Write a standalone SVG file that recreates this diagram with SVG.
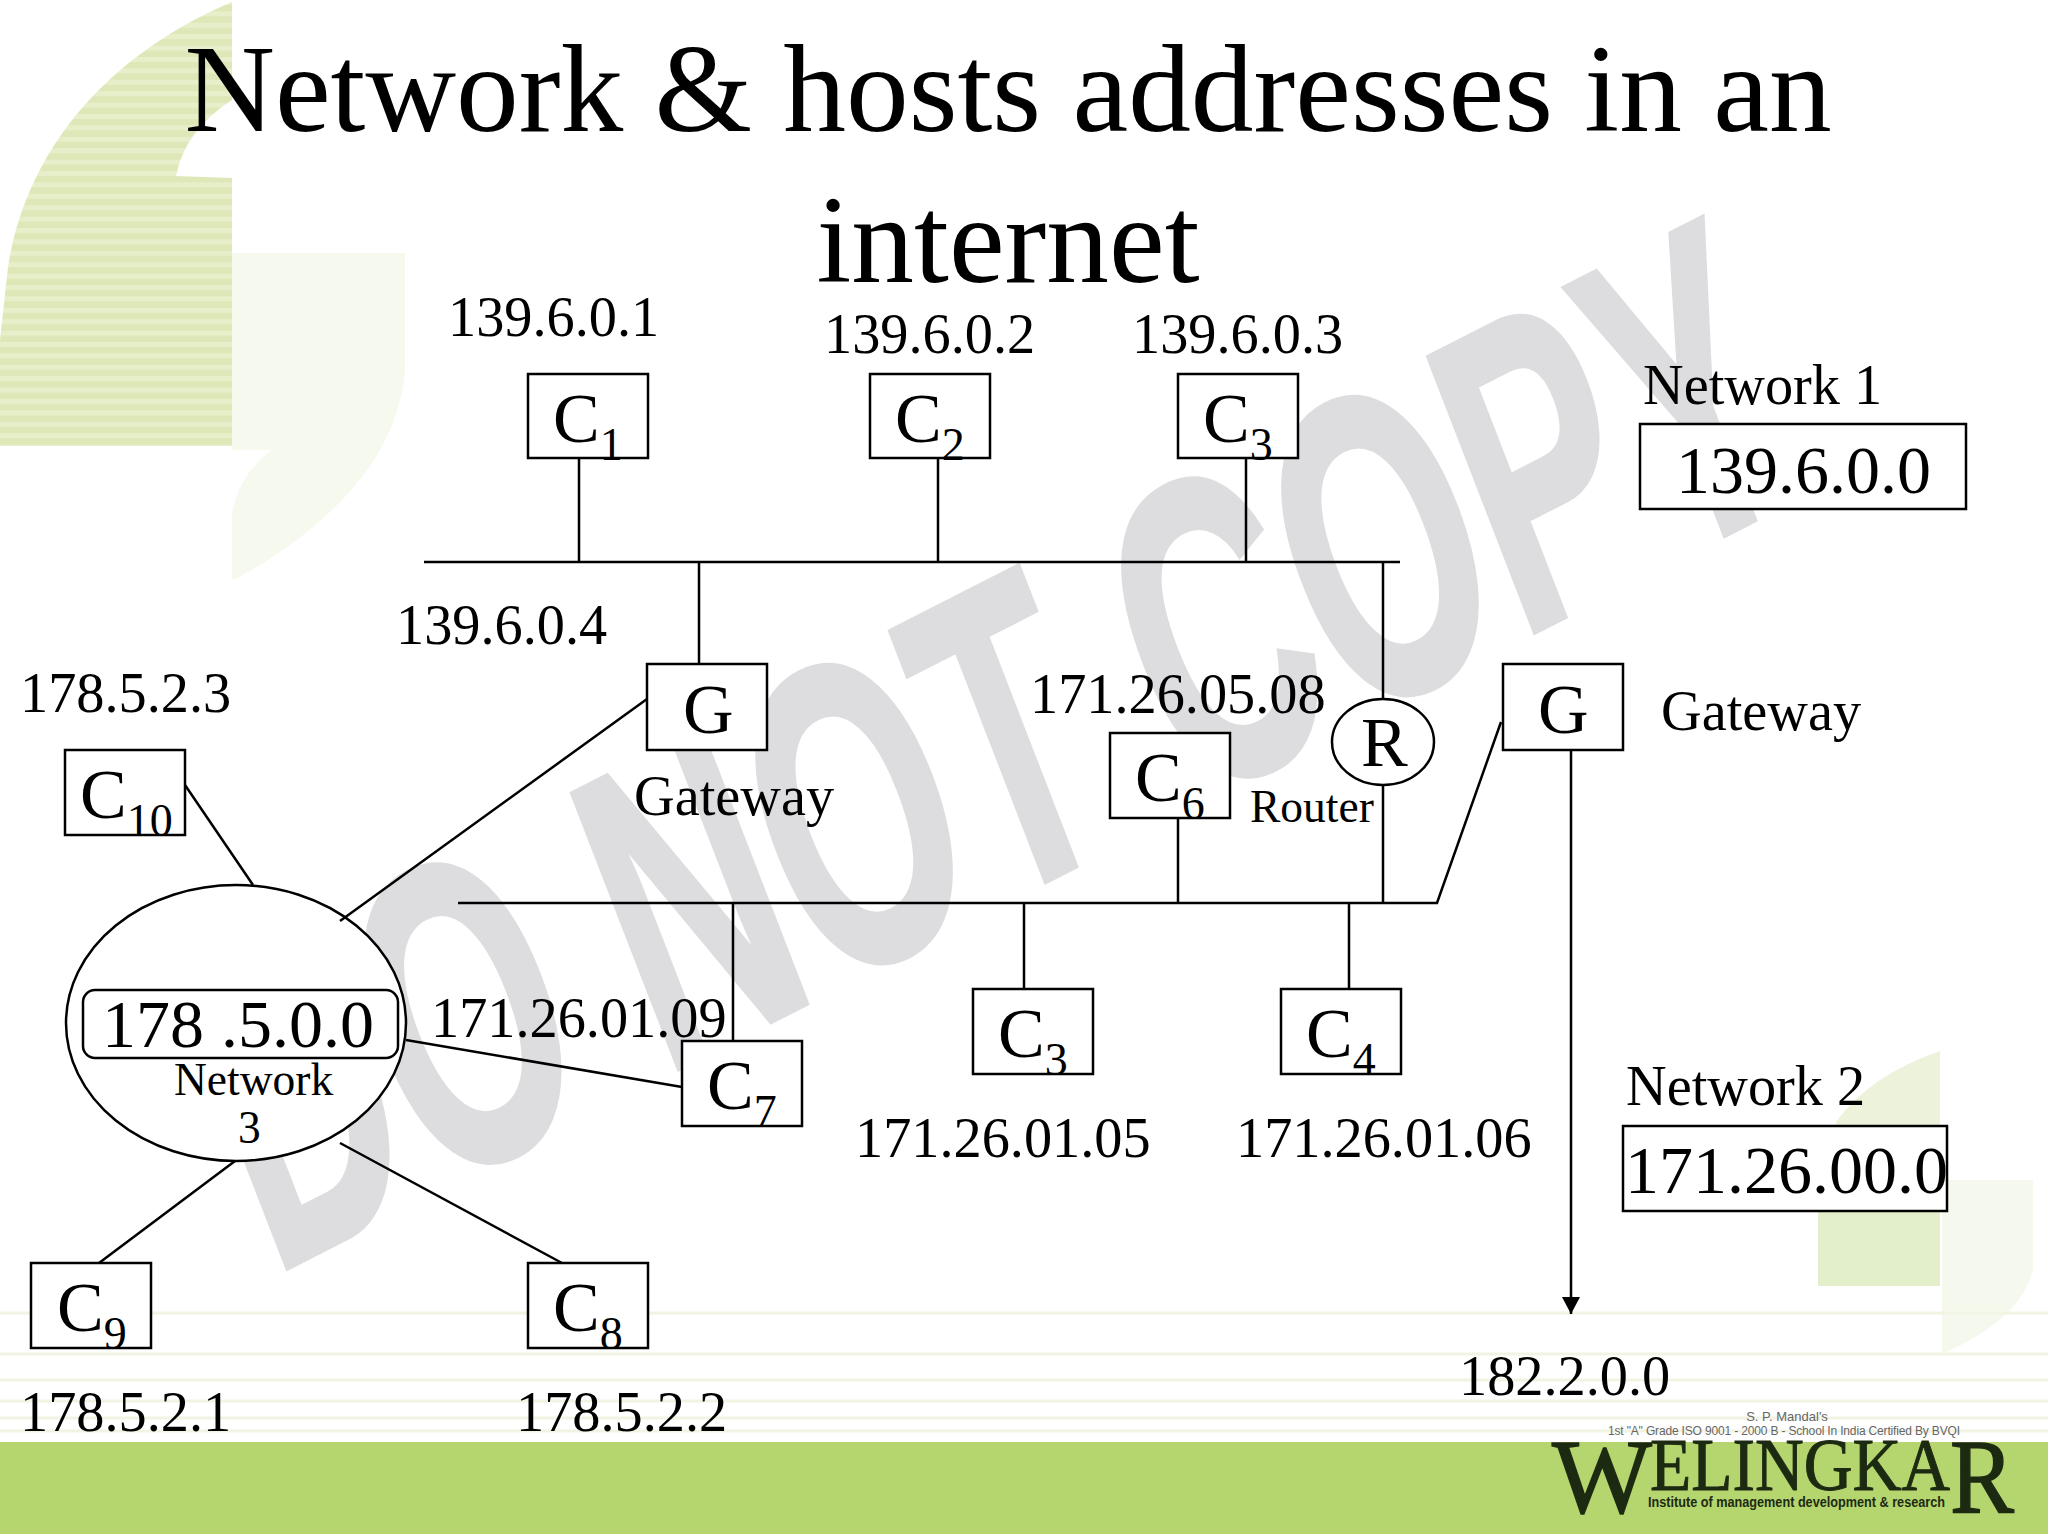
<svg xmlns="http://www.w3.org/2000/svg" width="2048" height="1534" viewBox="0 0 2048 1534">
<style>
text{font-family:"Liberation Serif","Times New Roman",serif;fill:#000}
.a{font-size:56.3px}.b{font-size:68px}.c{font-size:70px}.s{font-size:46px}.m{font-size:45.5px}.t{font-size:125.4px}
.box{fill:#fff;stroke:#000;stroke-width:2.5}
.ln{stroke:#000;stroke-width:2.5;fill:none}
.bl{stroke:#f1f3e3;stroke-width:3;fill:none}
</style>
<defs>
<pattern id="st" width="12" height="11.4" patternUnits="userSpaceOnUse"><rect width="12" height="11.4" fill="#e7efca"/><rect y="5" width="12" height="6.4" fill="#dde7b8"/></pattern>
<marker id="ah" markerUnits="userSpaceOnUse" markerWidth="18" markerHeight="18" refX="17" refY="9" orient="auto"><path d="M0 0L17 9L0 18Z" fill="#000"/></marker>
</defs>
<g id="background">
<rect width="2048" height="1534" fill="#fff"/>
<path d="M232 253L405 253L405 370Q395 490 236 579L232 579L232 515Q238 475 272 450L232 450Z" fill="#f6f9ee"/>
<path d="M232 2C130 45 30 130 8 267L0 340L0 446L232 446L232 178L176 176Q185 130 232 100Z" fill="url(#st)"/>
<path d="M1942 1180L2033 1180L2033 1270Q2020 1320 1942 1354L1942 1286Z" fill="#f5f8ec"/>
<path d="M1836 1122Q1870 1075 1940 1051L1940 1180L1842 1180Z" fill="#edf3db"/>
<path d="M1818 1180L1940 1180L1940 1286L1818 1286Z" fill="#e3eecb"/>
<path class="bl" d="M0 1313H2048M0 1354H2048M0 1380H2048M0 1401H2048M0 1418H2048M0 1431H2048"/>
<rect y="1442" width="2048" height="92" fill="#b5d56f"/>
<text transform="matrix(.512 -.261 .36 .93 272 1276)" style="font-family:'Liberation Sans',Arial,sans-serif;font-weight:700;font-size:430px;fill:#dddde0;stroke:#dddde0;stroke-width:5">DO NOT COPY</text>
</g>
<g id="logo">
<text x="1787" y="1421" text-anchor="middle" style="font-family:'Liberation Sans',sans-serif;font-size:13px;fill:#666">S. P. Mandal's</text>
<text x="1608" y="1435" textLength="352" style="font-family:'Liberation Sans',sans-serif;font-size:12px;fill:#666">1st "A" Grade ISO 9001 - 2000 B - School In India Certified By BVQI</text>
<text x="1552" y="1512" textLength="100" lengthAdjust="spacingAndGlyphs" style="font-size:106px;fill:#1d2a12;stroke:#1d2a12;stroke-width:1.5">W</text>
<text x="1650" y="1490" textLength="300" lengthAdjust="spacingAndGlyphs" style="font-size:75px;fill:#1d2a12;stroke:#1d2a12;stroke-width:1">ELINGKA</text>
<text x="1950" y="1512" textLength="64" lengthAdjust="spacingAndGlyphs" style="font-size:106px;fill:#1d2a12;stroke:#1d2a12;stroke-width:1.5">R</text>
<text x="1648" y="1507" textLength="297" lengthAdjust="spacingAndGlyphs" style="font-family:'Liberation Sans',sans-serif;font-weight:700;font-size:14px;fill:#1d2a12">Institute of management development &amp; research</text>
</g>
<g id="title">
<text class="t" x="1008" y="131" text-anchor="middle">Network &amp; hosts addresses in an</text>
<text class="t" x="1008" y="282" text-anchor="middle">internet</text>
</g>
<g id="network3"><ellipse class="box" cx="236" cy="1023" rx="170" ry="138"/><rect class="box" x="83" y="990" width="315" height="68" rx="12"/><text class="b" x="102" y="1047">178 .5.0.0</text><text class="m" x="174" y="1095">Network</text><text class="m" x="238" y="1143">3</text></g>
<g id="connectors">
<path class="ln" d="M424 562H1400M579 458V562M938 458V562M1246 458V562M699 562V664M1383 562V700M458 903H1437L1501 722M1383 785V903M1178 818V903M733 903V1041M1024 903V989M1349 903V989"/>
<path class="ln" d="M185 785L253 885M647 699L340 921M406 1040L682 1087M235 1161L99 1263M340 1143L562 1263"/>
<path class="ln" d="M1571 750V1314" marker-end="url(#ah)"/>
</g>
<g id="c1"><rect class="box" x="528" y="374" width="120" height="84"/><text class="c" x="553" y="442">C<tspan class="s" dy="18">1</tspan></text></g>
<g id="c2"><rect class="box" x="870" y="374" width="120" height="84"/><text class="c" x="895" y="442">C<tspan class="s" dy="18">2</tspan></text></g>
<g id="c3"><rect class="box" x="1178" y="374" width="120" height="84"/><text class="c" x="1203" y="442">C<tspan class="s" dy="18">3</tspan></text></g>
<g id="gateway1"><rect class="box" x="647" y="664" width="120" height="86"/><text class="c" x="683" y="733">G</text></g>
<g id="gateway2"><rect class="box" x="1503" y="664" width="120" height="86"/><text class="c" x="1538" y="733">G</text></g>
<g id="router"><ellipse class="box" cx="1383" cy="742" rx="51" ry="43"/><text class="c" x="1361" y="766">R</text></g>
<g id="c6"><rect class="box" x="1110" y="733" width="120" height="85"/><text class="c" x="1135" y="801">C<tspan class="s" dy="18">6</tspan></text></g>
<g id="c10"><rect class="box" x="65" y="750" width="120" height="85"/><text class="c" x="80" y="818">C<tspan class="s" dy="18">10</tspan></text></g>
<g id="c3b"><rect class="box" x="973" y="989" width="120" height="85"/><text class="c" x="998" y="1057">C<tspan class="s" dy="18">3</tspan></text></g>
<g id="c4"><rect class="box" x="1281" y="989" width="120" height="85"/><text class="c" x="1306" y="1057">C<tspan class="s" dy="18">4</tspan></text></g>
<g id="c7"><rect class="box" x="682" y="1041" width="120" height="85"/><text class="c" x="707" y="1109">C<tspan class="s" dy="18">7</tspan></text></g>
<g id="c9"><rect class="box" x="31" y="1263" width="120" height="85"/><text class="c" x="57" y="1331">C<tspan class="s" dy="18">9</tspan></text></g>
<g id="c8"><rect class="box" x="528" y="1263" width="120" height="85"/><text class="c" x="553" y="1331">C<tspan class="s" dy="18">8</tspan></text></g>
<g id="network1"><rect class="box" x="1640" y="424" width="326" height="85"/><text class="b" x="1676" y="493">139.6.0.0</text></g>
<g id="network2"><rect class="box" x="1623" y="1126" width="324" height="85"/><text class="b" x="1625" y="1193">171.26.00.0</text></g>
<g id="labels">
<text class="a" x="448" y="336">139.6.0.1</text>
<text class="a" x="824" y="353">139.6.0.2</text>
<text class="a" x="1132" y="353">139.6.0.3</text>
<text class="a" x="1643" y="404">Network 1</text>
<text class="a" x="396" y="644">139.6.0.4</text>
<text class="a" x="20" y="712">178.5.2.3</text>
<text class="a" x="634" y="815">Gateway</text>
<text class="a" x="1030" y="713">171.26.05.08</text>
<text class="m" x="1250" y="822">Router</text>
<text class="a" x="1661" y="730">Gateway</text>
<text class="a" x="431" y="1037">171.26.01.09</text>
<text class="a" x="855" y="1157">171.26.01.05</text>
<text class="a" x="1236" y="1157">171.26.01.06</text>
<text class="a" x="1626" y="1105">Network 2</text>
<text class="a" x="1459" y="1395">182.2.0.0</text>
<text class="a" x="20" y="1431">178.5.2.1</text>
<text class="a" x="516" y="1431">178.5.2.2</text>
</g>
</svg>
